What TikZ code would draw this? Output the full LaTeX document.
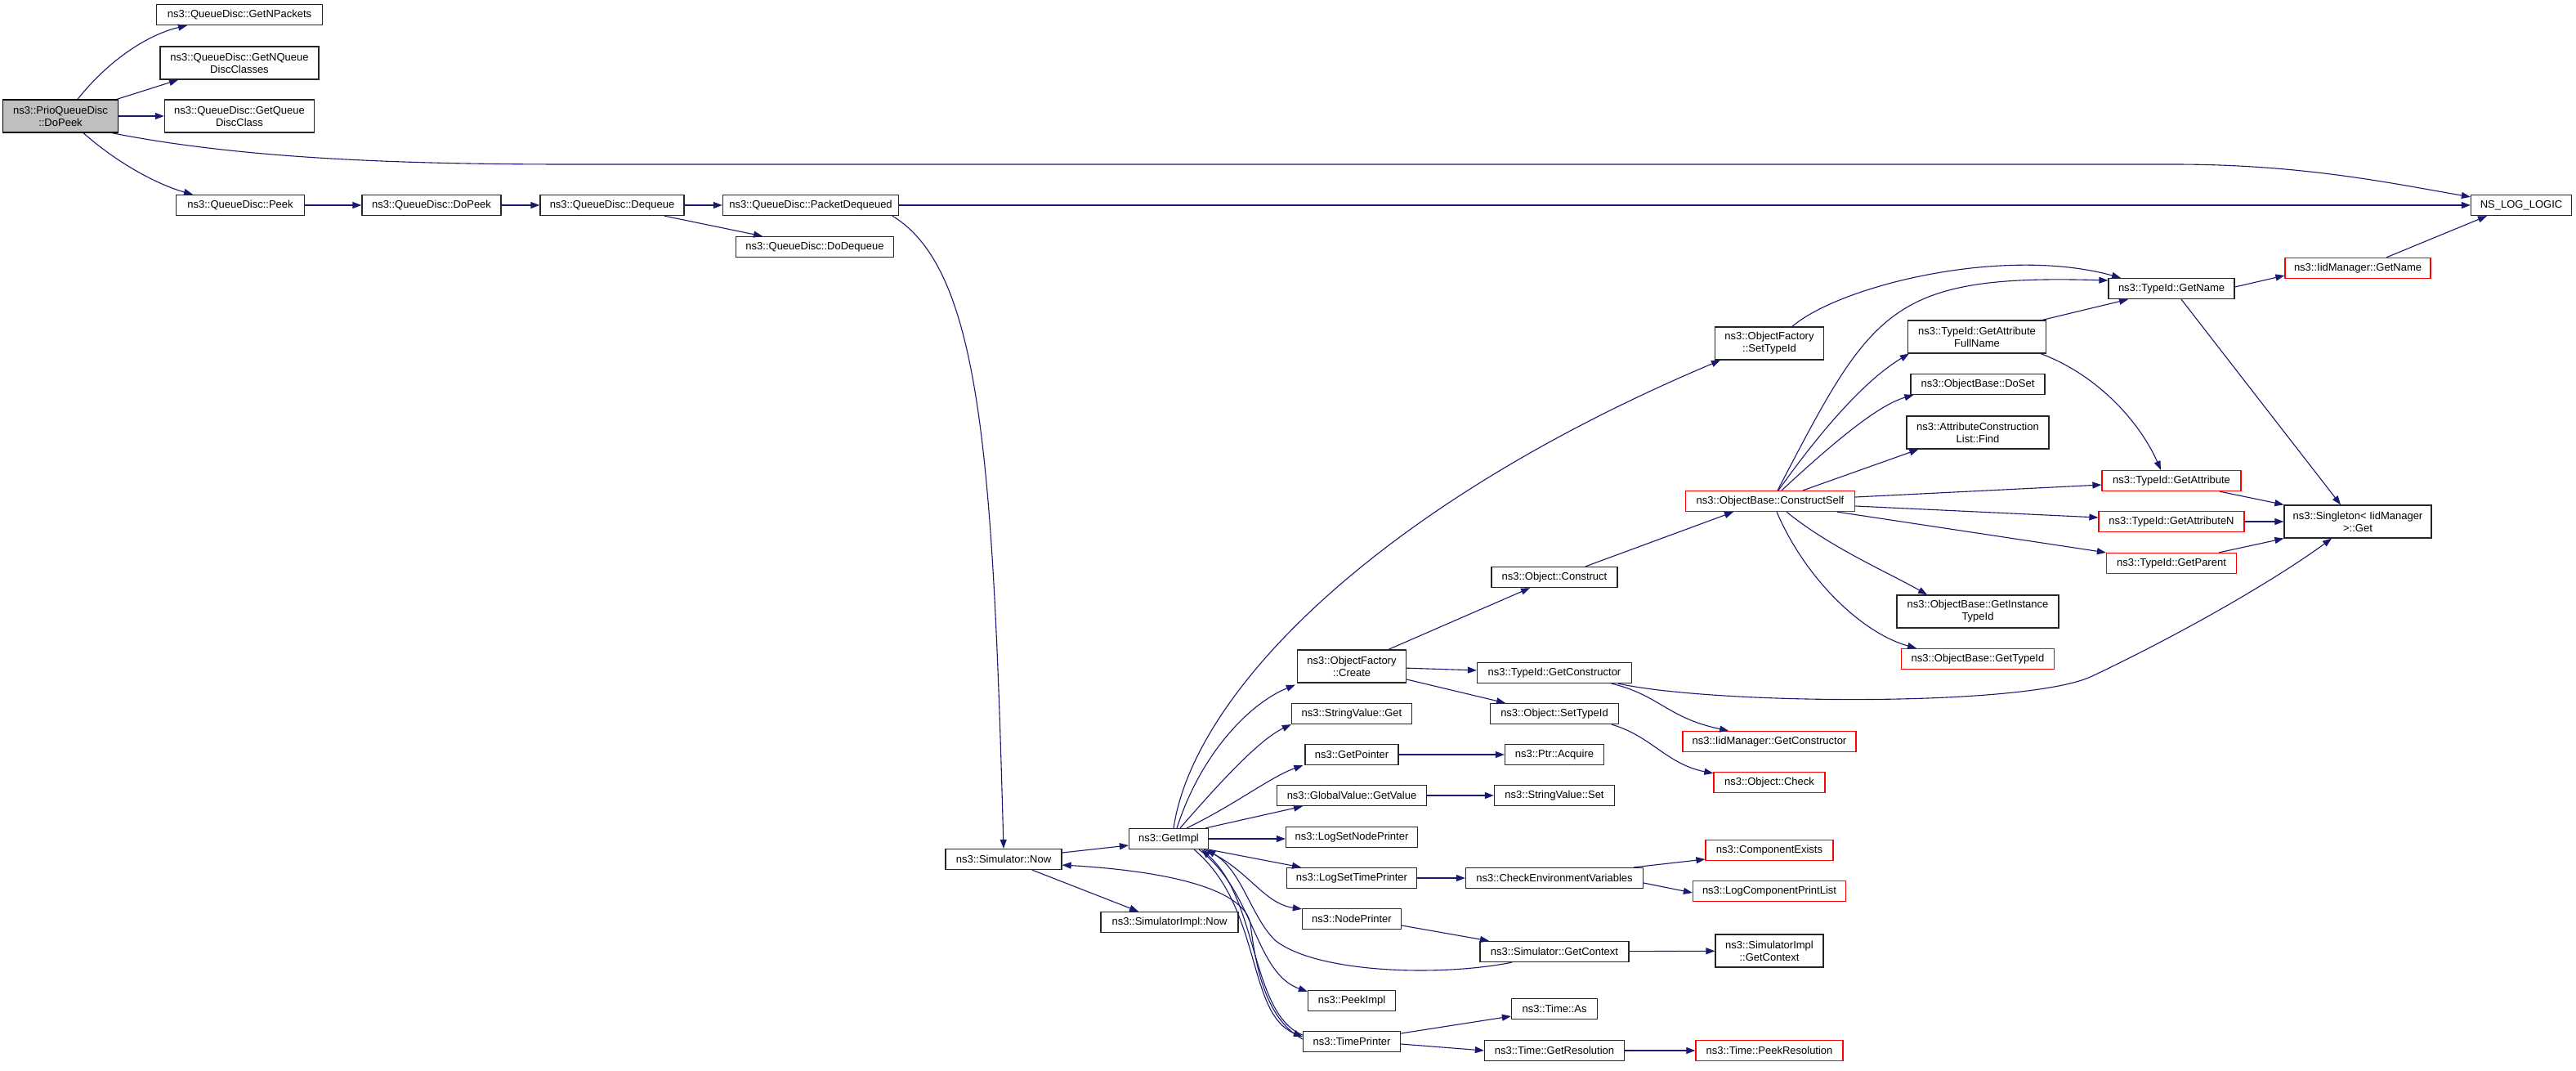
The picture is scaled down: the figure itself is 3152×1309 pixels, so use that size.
\documentclass[tikz,border=0pt]{standalone}
\usepackage{fontspec}
\setmainfont{Liberation Sans}
\usetikzlibrary{arrows.meta}

\definecolor{edgeblue}{RGB}{25,25,112}
\definecolor{nodered}{RGB}{255,0,0}
\definecolor{rootgray}{RGB}{191,191,191}

\tikzset{
  fn/.style={draw=black!85, line width=1.3pt, fill=white, minimum height=25pt, inner sep=2pt,
    align=center, font=\fontsize{13pt}{15pt}\selectfont},
  fntwo/.style={fn, minimum height=40pt},
  fnred/.style={fn, draw=nodered},
  fnroot/.style={fntwo, draw=black, fill=rootgray},
  call/.style={draw=edgeblue, line width=1.1pt, -{Triangle[length=11pt,width=8pt]}}
}

\begin{document}
\begin{tikzpicture}[x=1pt, y=-1pt]
        \path[use as bounding box, fill=white] (0,0) rectangle (3152,1309);

        % Root and queue disc calls
        \node[fnroot, minimum width=141pt] (prio) at (74,142) {ns3::PrioQueueDisc\\::DoPeek};
        \node[fn, minimum width=203pt] (npk) at (293,18) {ns3::QueueDisc::GetNPackets};
        \node[fntwo, minimum width=194pt] (nqdc) at (293,77) {ns3::QueueDisc::GetNQueue\\DiscClasses};
        \node[fntwo, minimum width=183pt] (gqdc) at (293,142) {ns3::QueueDisc::GetQueue\\DiscClass};
        \node[fn, minimum width=157pt] (peek) at (294,251) {ns3::QueueDisc::Peek};
        \node[fn, minimum width=170pt] (qdpeek) at (528,251) {ns3::QueueDisc::DoPeek};
        \node[fn, minimum width=176pt] (deq) at (749,251) {ns3::QueueDisc::Dequeue};
        \node[fn, minimum width=215pt] (pdeq) at (992,251) {ns3::QueueDisc::PacketDequeued};
        \node[fn, minimum width=193pt] (ddeq) at (997,302) {ns3::QueueDisc::DoDequeue};
        \node[fn, minimum width=123pt] (nlog) at (3085,251) {NS\_LOG\_LOGIC};

        % Simulator
        \node[fn, minimum width=142pt] (simnow) at (1228,1051) {ns3::Simulator::Now};
        \node[fn, minimum width=168pt] (simimplnow) at (1431,1128) {ns3::SimulatorImpl::Now};
        \node[fn, minimum width=97pt] (getimpl) at (1430,1026) {ns3::GetImpl};

        % GetImpl callees
        \node[fntwo, minimum width=133pt] (ofsettypeid) at (2165,420) {ns3::ObjectFactory\\::SetTypeId};
        \node[fntwo, minimum width=133pt] (ofcreate) at (1654,815) {ns3::ObjectFactory\\::Create};
        \node[fn, minimum width=147pt] (svget) at (1654,873) {ns3::StringValue::Get};
        \node[fn, minimum width=114pt] (getptr) at (1654,923) {ns3::GetPointer};
        \node[fn, minimum width=183pt] (gvget) at (1654,973) {ns3::GlobalValue::GetValue};
        \node[fn, minimum width=161pt] (lsnp) at (1654,1024) {ns3::LogSetNodePrinter};
        \node[fn, minimum width=159pt] (lstp) at (1654,1074) {ns3::LogSetTimePrinter};
        \node[fn, minimum width=121pt] (nodepr) at (1654,1124) {ns3::NodePrinter};
        \node[fn, minimum width=107pt] (peekimpl) at (1654,1224) {ns3::PeekImpl};
        \node[fn, minimum width=119pt] (timepr) at (1654,1274) {ns3::TimePrinter};

        % Next column
        \node[fn, minimum width=154pt] (objconstruct) at (1902,706) {ns3::Object::Construct};
        \node[fn, minimum width=189pt] (tygetctor) at (1902,823) {ns3::TypeId::GetConstructor};
        \node[fn, minimum width=157pt] (objsettypeid) at (1902,873) {ns3::Object::SetTypeId};
        \node[fn, minimum width=121pt] (ptracq) at (1902,923) {ns3::Ptr::Acquire};
        \node[fn, minimum width=147pt] (svset) at (1902,973) {ns3::StringValue::Set};
        \node[fn, minimum width=217pt] (checkenv) at (1902,1074) {ns3::CheckEnvironmentVariables};
        \node[fn, minimum width=182pt] (simgetctx) at (1902,1164) {ns3::Simulator::GetContext};
        \node[fn, minimum width=105pt] (timeas) at (1902,1234) {ns3::Time::As};
        \node[fn, minimum width=171pt] (timegetres) at (1902,1285) {ns3::Time::GetResolution};

        % ConstructSelf column
        \node[fnred, minimum width=207pt] (cself) at (2166,613) {ns3::ObjectBase::ConstructSelf};
        \node[fnred, minimum width=212pt] (iidgetctor) at (2165,907) {ns3::IidManager::GetConstructor};
        \node[fnred, minimum width=136pt] (objcheck) at (2165,957) {ns3::Object::Check};
        \node[fnred, minimum width=156pt] (compexists) at (2165,1040) {ns3::ComponentExists};
        \node[fnred, minimum width=187pt] (logcomp) at (2165,1090) {ns3::LogComponentPrintList};
        \node[fntwo, minimum width=132pt] (simimplctx) at (2165,1163) {ns3::SimulatorImpl\\::GetContext};
        \node[fnred, minimum width=180pt] (peekres) at (2165,1285) {ns3::Time::PeekResolution};

        % ObjectBase / TypeId
        \node[fntwo, minimum width=169pt] (attrfull) at (2419,412) {ns3::TypeId::GetAttribute\\FullName};
        \node[fn, minimum width=164pt] (doset) at (2420,470) {ns3::ObjectBase::DoSet};
        \node[fntwo, minimum width=174pt] (find) at (2420,529) {ns3::AttributeConstruction\\List::Find};
        \node[fntwo, minimum width=198pt] (instid) at (2420,748) {ns3::ObjectBase::GetInstance\\TypeId};
        \node[fnred, minimum width=187pt] (gettypeid) at (2420,806) {ns3::ObjectBase::GetTypeId};
        \node[fn, minimum width=154pt] (tygetname) at (2657,353) {ns3::TypeId::GetName};
        \node[fnred, minimum width=170pt] (getattr) at (2657,588) {ns3::TypeId::GetAttribute};
        \node[fnred, minimum width=178pt] (getattrn) at (2657,638) {ns3::TypeId::GetAttributeN};
        \node[fnred, minimum width=159pt] (getparent) at (2657,689) {ns3::TypeId::GetParent};
        \node[fnred, minimum width=178pt] (iidgetname) at (2885,328) {ns3::IidManager::GetName};
        \node[fntwo, minimum width=180pt] (singleton) at (2885,638) {ns3::Singleton< IidManager\\ >::Get};

        % Root calls
        \draw[call] ([xshift=21pt]prio.north) .. controls (140,65) and (190,40) .. ([xshift=-64pt]npk.south);
        \draw[call] ([xshift=-2pt]prio.north east) -- ([xshift=-75pt]nqdc.south);
        \draw[call] (prio) -- (gqdc);
        \draw[call] ([xshift=63pt]prio.south) .. controls (300,195) and (500,201) .. (700,201) -- (2660,201)
            .. controls (2820,201) and (2930,225) .. ([yshift=-3pt]nlog.north west);
        \draw[call] ([xshift=28pt]prio.south) .. controls (150,205) and (200,228) .. ([xshift=-58pt]peek.north);
        \draw[call] (peek) -- (qdpeek);
        \draw[call] (qdpeek) -- (deq);
        \draw[call] (deq) -- (pdeq);
        \draw[call] ([xshift=64pt]deq.south) -- ([xshift=-64pt]ddeq.north);
        \draw[call] (pdeq) -- (nlog);
        \draw[call] ([xshift=100pt]pdeq.south) .. controls (1200,330) and (1215,560) .. (simnow.north);

        % Simulator::Now
        \draw[call] ([yshift=8pt]simnow.east) -- ([yshift=-8pt]getimpl.west);
        \draw[call] ([xshift=35pt]simnow.south) -- ([xshift=-38pt]simimplnow.north);

        % GetImpl fan
        \draw[call] ([xshift=6pt]getimpl.north) .. controls (1460,850) and (1680,620) .. ([xshift=-60pt]ofsettypeid.south);
        \draw[call] ([xshift=10pt]getimpl.north) .. controls (1470,920) and (1530,860) .. ([xshift=-2pt,yshift=-2pt]ofcreate.south west);
        \draw[call] ([xshift=14pt]getimpl.north) .. controls (1490,960) and (1540,905) .. (svget.south west);
        \draw[call] ([xshift=22pt]getimpl.north) .. controls (1510,985) and (1555,950) .. ([xshift=-2pt]getptr.south west);
        \draw[call] ([xshift=-4pt]getimpl.north east) -- ([xshift=-60pt]gvget.south);
        \draw[call] (getimpl.east) -- (getimpl.east -| lsnp.west);
        \draw[call] (getimpl.south east) -- ([xshift=-62pt]lstp.north);
        \draw[call] ([xshift=-6pt]getimpl.south east) .. controls (1525,1060) and (1545,1105) .. ([yshift=-1pt]nodepr.north west);
        \draw[call] ([xshift=-12pt]getimpl.south east) .. controls (1535,1090) and (1535,1190) .. ([yshift=-2pt]peekimpl.north west);
        \draw[call] ([xshift=-18pt]getimpl.south east) .. controls (1545,1110) and (1525,1240) .. ([yshift=6pt]timepr.west);
        \draw[call] ([yshift=8pt]timepr.west) .. controls (1530,1240) and (1540,1100) .. ([xshift=-9pt]getimpl.south east);
        \draw[call] ([yshift=3pt]timepr.west) .. controls (1545,1245) and (1535,1170) .. (1530,1130)
            .. controls (1522,1085) and (1420,1065) .. ([yshift=-7pt]simnow.east);
        \draw[call] ([xshift=-52pt]simgetctx.south) .. controls (1760,1195) and (1610,1190) .. (1560,1150)
            .. controls (1530,1120) and (1520,1065) .. ([xshift=-3pt]getimpl.south east);

        % Second column calls
        \draw[call] ([xshift=45pt]ofcreate.north) -- ([xshift=-30pt]objconstruct.south);
        \draw[call] (ofcreate) -- (tygetctor);
        \draw[call] ([yshift=-16pt]ofcreate.east) -- ([xshift=-60pt]objsettypeid.north);
        \draw[call] (getptr) -- (ptracq);
        \draw[call] (gvget) -- (svset);
        \draw[call] (lstp) -- (checkenv);
        \draw[call] ([yshift=-8pt]nodepr.east) -- ([xshift=-80pt]simgetctx.north);
        \draw[call] ([yshift=10pt]timepr.east) -- ([yshift=-9pt]timeas.west);
        \draw[call] ([yshift=-3pt]timepr.east) -- (timegetres.west);
        \draw[call] (timegetres) -- (peekres);

        % Third column calls
        \draw[call] ([xshift=38pt]objconstruct.north) -- ([xshift=-45pt]cself.south);
        \draw[call] ([xshift=70pt]tygetctor.south) .. controls (2030,850) and (2040,878) .. ([xshift=-50pt]iidgetctor.north);
        \draw[call] ([xshift=78pt]tygetctor.south) .. controls (2100,862) and (2480,865) .. (2560,827)
            .. controls (2680,770) and (2790,705) .. ([xshift=-32pt]singleton.south);
        \draw[call] ([xshift=70pt]objsettypeid.south) .. controls (2020,900) and (2040,935) .. ([yshift=-2pt]objcheck.north west);
        \draw[call] ([xshift=-12pt]checkenv.north east) -- ([yshift=-11pt]compexists.west);
        \draw[call] ([yshift=-6pt]checkenv.east) -- ([yshift=-2pt]logcomp.west);
        \draw[call] (simgetctx) -- (simimplctx);

        % ConstructSelf fan
        \draw[call] ([xshift=9pt]cself.north) .. controls (2290,380) and (2310,335) .. ([yshift=10pt]tygetname.west);
        \draw[call] ([xshift=10pt]cself.north) .. controls (2240,510) and (2290,460) .. ([xshift=2pt]attrfull.south west);
        \draw[call] ([xshift=14pt]cself.north) .. controls (2250,535) and (2300,495) .. ([xshift=4pt]doset.south west);
        \draw[call] ([xshift=40pt]cself.north) -- ([xshift=15pt]find.south west);
        \draw[call] ([yshift=5pt]cself.east) -- ([yshift=-5pt]getattr.west);
        \draw[call] ([yshift=-6pt]cself.east) -- ([yshift=5pt]getattrn.west);
        \draw[call] ([xshift=82pt]cself.south) -- (getparent.north west);
        \draw[call] ([xshift=20pt]cself.south) .. controls (2240,670) and (2310,700) .. ([xshift=-62pt]instid.north);
        \draw[call] ([xshift=8pt]cself.south) .. controls (2210,710) and (2280,775) .. ([xshift=-75pt]gettypeid.north);
        \draw[call] ([xshift=28pt]ofsettypeid.north) .. controls (2250,350) and (2450,300) .. ([xshift=-62pt]tygetname.north);

        % TypeId calls
        \draw[call] ([xshift=-5pt]attrfull.north east) -- ([xshift=-53pt]tygetname.south);
        \draw[call] ([xshift=-7pt]attrfull.south east) .. controls (2570,460) and (2620,520) .. ([xshift=-13pt]getattr.north);
        \draw[call] ([yshift=2pt]tygetname.east) -- ([yshift=-9pt]iidgetname.west);
        \draw[call] ([xshift=12pt]tygetname.south) -- ([xshift=-21pt]singleton.north);
        \draw[call] ([xshift=35pt]iidgetname.north) -- ([xshift=-42pt]nlog.south);
        \draw[call] ([xshift=59pt]getattr.south) -- (singleton.north west);
        \draw[call] (getattrn) -- (singleton);
        \draw[call] ([xshift=58pt]getparent.north) -- (singleton.south west);
    \end{tikzpicture}
\end{document}
